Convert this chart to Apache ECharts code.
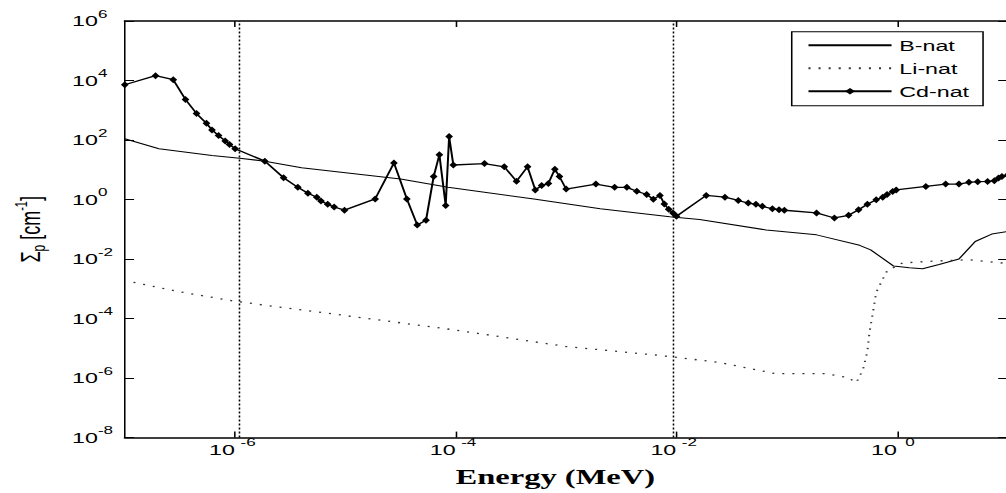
<!DOCTYPE html>
<html><head><meta charset="utf-8">
<script src="https://cdn.jsdelivr.net/npm/echarts@6/dist/echarts.min.js"></script>
<style>
html,body{margin:0;padding:0;background:#fff;overflow:hidden;width:1006px;height:493px;}
#chart{width:650px;height:493px;transform:scaleX(1.55);transform-origin:0 0;}
</style></head><body><div id="chart"></div>
<script>
// ---- data ----
const seriesNames = ['B-nat', 'Li-nat', 'Cd-nat'];
const xTickValues = [1e-6, 1e-4, 1e-2, 1];
const yTickValues = [1e-8, 1e-6, 1e-4, 1e-2, 1, 1e2, 1e4, 1e6];
const guideEnergies = [1.1e-6, 9.2e-3];
const yRange = [1e-8, 1e6];

const bEnergy = [1e-7, 2.04e-7, 6.17e-7, 1.1e-6, 1.86e-6, 4e-6, 3.16e-5, 8.5e-5, 5.1e-4, 2.04e-3, 8.7e-3, 1.62e-2, 6.5e-2, 0.186, 0.457, 0.575, 0.93, 1.29, 1.7, 2.4, 3.63, 5.1, 7.2, 10];
const bSigma  = [110, 51, 30, 24.5, 19.5, 11.7, 4.9, 2.57, 1.05, 0.49, 0.263, 0.214, 0.095, 0.065, 0.029, 0.0204, 0.0058, 0.0051, 0.0047, 0.0066, 0.01, 0.039, 0.069, 0.085];

const liEnergy = [1.2e-7, 3.16e-7, 1e-6, 1e-5, 1e-4, 1e-3, 6.3e-3, 1e-2, 2.5e-2, 7.9e-2, 0.224, 0.355, 0.427, 0.49, 0.537, 0.562, 0.603, 0.646, 0.74, 0.81, 1.12, 2.1, 4.47, 10];
const liSigma  = [1.65e-3, 7.9e-4, 3.8e-4, 1.26e-4, 4.1e-5, 1.15e-5, 6e-6, 5e-6, 3.3e-6, 1.41e-6, 1.41e-6, 1.05e-6, 7.1e-7, 1.9e-6, 7.9e-6, 3.5e-5, 1.6e-4, 7.6e-4, 2.1e-3, 4e-3, 7.4e-3, 8.5e-3, 9.5e-3, 7.1e-3];

const cdEnergy = [1e-7, 1.9e-7, 2.75e-7, 3.55e-7, 4.47e-7, 5.5e-7, 6.17e-7, 7.08e-7, 8.13e-7, 8.9e-7, 1e-6,
  1.86e-6, 2.75e-6, 3.7e-6, 4.57e-6, 5.5e-6, 6e-6, 6.9e-6, 7.9e-6, 9.8e-6,
  1.86e-5, 2.75e-5, 3.6e-5, 4.47e-5, 5.37e-5, 6.3e-5, 7.1e-5, 8.1e-5, 8.7e-5, 9.5e-5,
  1.82e-4, 2.75e-4, 3.55e-4, 4.47e-4, 5.25e-4, 6e-4, 6.9e-4, 7.9e-4, 8.7e-4, 1e-3,
  1.86e-3, 2.75e-3, 3.55e-3, 4.37e-3, 5.37e-3, 6.17e-3, 7.08e-3, 7.76e-3, 8.5e-3, 9.3e-3, 1e-2,
  1.86e-2, 2.75e-2, 3.63e-2, 4.47e-2, 5.25e-2, 6e-2, 7.4e-2, 8.5e-2, 9.5e-2,
  0.186, 0.27, 0.363, 0.447, 0.537, 0.646, 0.74, 0.81, 0.91, 0.98,
  1.82, 2.75, 3.63, 4.47, 5.37, 6.6, 7.6, 8.3, 8.9, 10];
const cdSigma = [7200, 14500, 10700, 2300, 776, 363, 219, 141, 93, 71, 51,
  19.5, 5.4, 2.57, 1.62, 1.2, 0.89, 0.69, 0.56, 0.44,
  1.05, 17, 1.05, 0.14, 0.2, 5.9, 32, 0.63, 132, 14.5,
  16.2, 12.6, 4.1, 12.6, 2.1, 2.95, 3.47, 10.5, 5.9, 2.24,
  3.3, 2.57, 2.57, 1.9, 1.48, 1.02, 1.38, 0.71, 0.47, 0.355, 0.275,
  1.38, 1.2, 0.93, 0.76, 0.69, 0.59, 0.49, 0.457, 0.437,
  0.355, 0.24, 0.295, 0.457, 0.69, 0.98, 1.2, 1.48, 1.86, 2.1,
  2.75, 3.3, 3.3, 3.8, 4.0, 4.07, 4.27, 5.25, 5.9, 6.6];

// ---- build ----
function pairs(xs, ys) { return xs.map(function (x, i) { return [x, ys[i]]; }); }
const FONT = 'Liberation Sans';
function expLabel(v) {
  const e = Math.round(Math.log10(v));
  return '{b|10}{s|' + e + '}';
}
const labelRich = {
  b: { fontFamily: FONT, fontSize: 15, lineHeight: 15, color: '#000', verticalAlign: 'middle' },
  s: { fontFamily: FONT, fontSize: 11, lineHeight: 11, color: '#000', padding: [0, 0, 14, 0], width: 17, align: 'left', verticalAlign: 'middle' }
};
const axisLineStyleX = { color: '#000', width: 1.5 };
const axisLineStyleY = { color: '#000', width: 1 };

const chart = echarts.init(document.getElementById('chart'), null, { renderer: 'svg' });
chart.setOption({
  animation: false,
  backgroundColor: '#fff',
  grid: { left: 79.2, top: 21, width: 570.8, height: 423, containLabel: false },
  legend: {
    orient: 'vertical', left: 510.8, top: 31.7,
    itemWidth: 53.6, itemHeight: 8, itemGap: 8, itemTextGap: 7,
    padding: [6, 9, 7, 9.8],
    borderColor: '#000', borderWidth: 1, borderRadius: 0, backgroundColor: '#fff',
    textStyle: { fontFamily: FONT, fontSize: 15, lineHeight: 15, color: '#000' },
    data: [
      { name: seriesNames[0], itemStyle: { opacity: 0 }, lineStyle: { opacity: 1 } },
      { name: seriesNames[1], itemStyle: { opacity: 0 }, lineStyle: { opacity: 1 } },
      { name: seriesNames[2] }
    ]
  },
  xAxis: [{
    type: 'log', logBase: 10, min: 1e-7, max: 10, position: 'bottom',
    name: 'Energy (MeV)', nameLocation: 'middle', nameGap: 25,
    nameTextStyle: { fontFamily: 'Liberation Serif', fontWeight: 'bold', fontSize: 21, color: '#000', padding: [0, 14, 0, 0] },
    axisLine: { show: true, lineStyle: axisLineStyleX },
    axisTick: { show: true, inside: true, length: 6, customValues: xTickValues, lineStyle: { color: '#000' } },
    minorTick: { show: false },
    axisLabel: { customValues: xTickValues, formatter: expLabel, margin: 4.5, rich: labelRich },
    splitLine: { show: false }
  }, {
    type: 'log', logBase: 10, min: 1e-7, max: 10, position: 'top',
    axisLine: { show: true, lineStyle: axisLineStyleX },
    axisTick: { show: true, inside: true, length: 6, customValues: xTickValues, lineStyle: { color: '#000' } },
    axisLabel: { show: false },
    splitLine: { show: false }
  }],
  yAxis: [{
    type: 'log', logBase: 10, min: yRange[0], max: yRange[1], position: 'left',
    name: '{t|Σ}{sub|p}{t| [cm}{sup|-1}{t|]}', nameLocation: 'middle', nameGap: 52,
    nameTextStyle: {
      color: '#000',
      rich: {
        t: { fontFamily: FONT, fontSize: 18, lineHeight: 18, color: '#000', verticalAlign: 'middle' },
        sub: { fontFamily: FONT, fontSize: 12, lineHeight: 12, color: '#000', padding: [10, 0, 0, 0], verticalAlign: 'middle' },
        sup: { fontFamily: FONT, fontSize: 11, lineHeight: 11, color: '#000', padding: [0, 0, 12, 0], verticalAlign: 'middle' }
      }
    },
    axisLine: { show: true, lineStyle: axisLineStyleY },
    axisTick: { show: true, inside: true, length: 6, customValues: yTickValues, lineStyle: { color: '#000' } },
    minorTick: { show: false },
    axisLabel: { customValues: yTickValues, formatter: expLabel, margin: 34, align: 'left', rich: labelRich },
    splitLine: { show: false }
  }, {
    type: 'log', logBase: 10, min: yRange[0], max: yRange[1], position: 'right',
    axisLine: { show: true, lineStyle: axisLineStyleY },
    axisTick: { show: true, inside: true, length: 6, customValues: yTickValues, lineStyle: { color: '#000' } },
    axisLabel: { show: false },
    splitLine: { show: false }
  }],
  series: [{
    name: seriesNames[0], type: 'line', xAxisIndex: 0, yAxisIndex: 0,
    data: pairs(bEnergy, bSigma), symbol: 'none', showSymbol: false,
    lineStyle: { color: '#000', width: 1 }, itemStyle: { color: '#000' },
    markLine: {
      silent: true, symbol: 'none', label: { show: false },
      lineStyle: { color: '#000', width: 1, type: [2, 2] },
      data: guideEnergies.map(function (e) { return [{ coord: [e, yRange[0]] }, { coord: [e, yRange[1]] }]; })
    }
  }, {
    name: seriesNames[1], type: 'line', xAxisIndex: 0, yAxisIndex: 0,
    data: pairs(liEnergy, liSigma), symbol: 'none', showSymbol: false,
    lineStyle: { color: '#333', width: 1.3, type: [1.3, 5.2] }, itemStyle: { color: '#333' }
  }, {
    name: seriesNames[2], type: 'line', xAxisIndex: 0, yAxisIndex: 0,
    data: pairs(cdEnergy, cdSigma), symbol: 'diamond', symbolSize: [5, 7], showSymbol: true,
    lineStyle: { color: '#000', width: 1.3 }, itemStyle: { color: '#000' }
  }]
});
</script></body></html>
